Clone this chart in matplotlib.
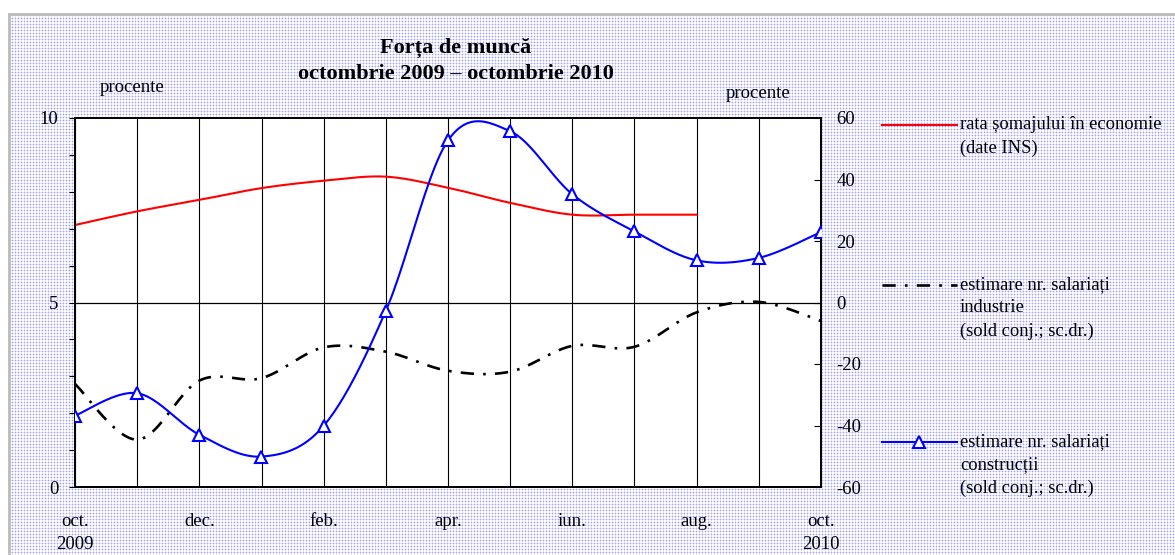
import matplotlib.pyplot as plt
import numpy as np
from matplotlib.lines import Line2D

plt.rcParams.update({
    "font.family": ["Liberation Serif", "DejaVu Serif"],
    "font.size": 13,
    "axes.unicode_minus": False,
})

# date lunare oct. 2009 - oct. 2010
luni = ["oct.", "nov.", "dec.", "ian.", "feb.", "mar.", "apr.", "mai", "iun.", "iul.", "aug.", "sep.", "oct."]
etichete_x = ["oct.\n2009", "", "dec.", "", "feb.", "", "apr.", "", "iun.", "", "aug.", "", "oct.\n2010"]

rata_somaj = [7.1, 7.47, 7.78, 8.1, 8.3, 8.41, 8.11, 7.7, 7.38, 7.38, 7.38]  # oct 2009 - aug 2010
sold_industrie = [-26.5, -44.6, -25.4, -24.6, -14.6, -16.0, -22.2, -22.5, -14.1, -14.4, -3.2, 0.2, -6.0]
sold_constructii = [-36.8, -29.5, -43.0, -50.1, -40.1, -2.7, 52.7, 55.7, 35.2, 23.1, 13.7, 14.5, 22.9]


def netezire(y, n=24):
    # linie netezita (ca in Excel), curba Catmull-Rom prin punctele lunare
    y = np.asarray(y, float)
    x = np.arange(len(y), dtype=float)
    xp = np.concatenate([[x[0]], x, [x[-1]]])
    yp = np.concatenate([[y[0]], y, [y[-1]]])
    t = np.linspace(0, 1, n, endpoint=False)[:, None]
    xs, ys = [], []
    for i in range(1, len(xp) - 2):
        for arr, out in ((xp, xs), (yp, ys)):
            p0, p1, p2, p3 = arr[i - 1], arr[i], arr[i + 1], arr[i + 2]
            c = 0.5 * ((2 * p1) + (-p0 + p2) * t + (2 * p0 - 5 * p1 + 4 * p2 - p3) * t ** 2
                       + (-p0 + 3 * p1 - 3 * p2 + p3) * t ** 3)
            out.extend(c.ravel())
    xs.append(x[-1])
    ys.append(y[-1])
    return np.array(xs), np.array(ys)


W, H = 1175, 555
fig = plt.figure(figsize=(W / 100, H / 100), dpi=100)
fig.patch.set_facecolor("white")

# fundal punctat
yy, xx = np.mgrid[0:H, 0:W]
img = np.ones((H, W, 3))
rand = (yy % 3 == 0) | (xx % 3 == 0)
cruce = (yy % 3 == 0) & (xx % 3 == 0)
img[rand] = [0.88, 0.88, 0.99]
img[cruce] = [0.64, 0.64, 0.96]
img[(yy < 13) | (xx < 8)] = [1, 1, 1]
img[(yy >= 13) & (yy < 16) & (xx >= 8)] = [0.75, 0.75, 0.75]
img[(xx >= 8) & (xx < 11) & (yy >= 13)] = [0.75, 0.75, 0.75]
fig.figimage(img, 0, 0, origin="upper", zorder=-10)

ax = fig.add_axes([75 / W, 1 - 487 / H, 746 / W, 369 / H])
ax.set_facecolor("white")
ax2 = ax.twinx()

x_luni = np.arange(len(luni))

xr, yr = netezire(rata_somaj)
ax.plot(xr, yr, color="red", lw=1.5, zorder=3)

xi, yi = netezire(sold_industrie)
ax2.plot(xi, yi, color="black", lw=1.9, linestyle=(0, (5, 3.5, 1, 3.5)), zorder=3)

xc, yc = netezire(sold_constructii)
ax2.plot(xc, yc, color="#0000ff", lw=1.5, zorder=4)
ax2.plot(x_luni, sold_constructii, linestyle="none", marker="^", markersize=8,
         markerfacecolor="white", markeredgecolor="#0000ff", markeredgewidth=1.5, zorder=5)

ax.set_xlim(0, 12)
ax.set_ylim(0, 10)
ax2.set_ylim(-60, 60)

ax.set_xticks(x_luni)
ax.set_xticklabels(etichete_x, fontsize=13.5, linespacing=1.45)
ax.tick_params(axis="x", length=0, pad=19)
ax.grid(axis="x", color="black", lw=0.8)
ax.axhline(5, color="black", lw=0.9, zorder=1)

ax.set_yticks(range(11))
ax.set_yticklabels(["0", "", "", "", "", "5", "", "", "", "", "10"], fontsize=13.5)
ax.tick_params(axis="y", direction="out", length=4, width=0.8, pad=8)

ax2.set_yticks(range(-60, 61, 20))
ax2.tick_params(axis="y", direction="in", length=5, width=0.8, pad=11, labelsize=13.5)

for a in (ax, ax2):
    for s in a.spines.values():
        s.set_linewidth(1.3)
        s.set_color("black")

fig.text(456 / W, 1 - 61 / H, "Forța de muncă\noctombrie 2009 – octombrie 2010", ha="center", va="center",
         fontsize=16, fontweight="bold", linespacing=1.45)
fig.text(132 / W, 1 - 87 / H, "procente", ha="center", va="center", fontsize=13.5)
fig.text(758 / W, 1 - 93 / H, "procente", ha="center", va="center", fontsize=13.5)

# legenda
legenda = [
    (125, "rata șomajului în economie\n(date INS)", dict(color="red", lw=1.5)),
    (285, "estimare nr. salariați\nindustrie\n(sold conj.; sc.dr.)",
     dict(color="black", lw=1.9, linestyle=(0, (5, 3.5, 1, 3.5)))),
    (442, "estimare nr. salariați\nconstrucții\n(sold conj.; sc.dr.)",
     dict(color="#0000ff", lw=1.5, marker="^", markevery=[1], markersize=8,
          markerfacecolor="white", markeredgecolor="#0000ff", markeredgewidth=1.5)),
]
for y_px, text, stil in legenda:
    fig.add_artist(Line2D([882 / W, 919 / W, 957 / W], [1 - y_px / H] * 3, **stil))
    fig.text(960 / W, 1 - (y_px - 9) / H, text, ha="left", va="top", fontsize=13.3, linespacing=1.5)

fig.savefig("out.png", dpi=100)
